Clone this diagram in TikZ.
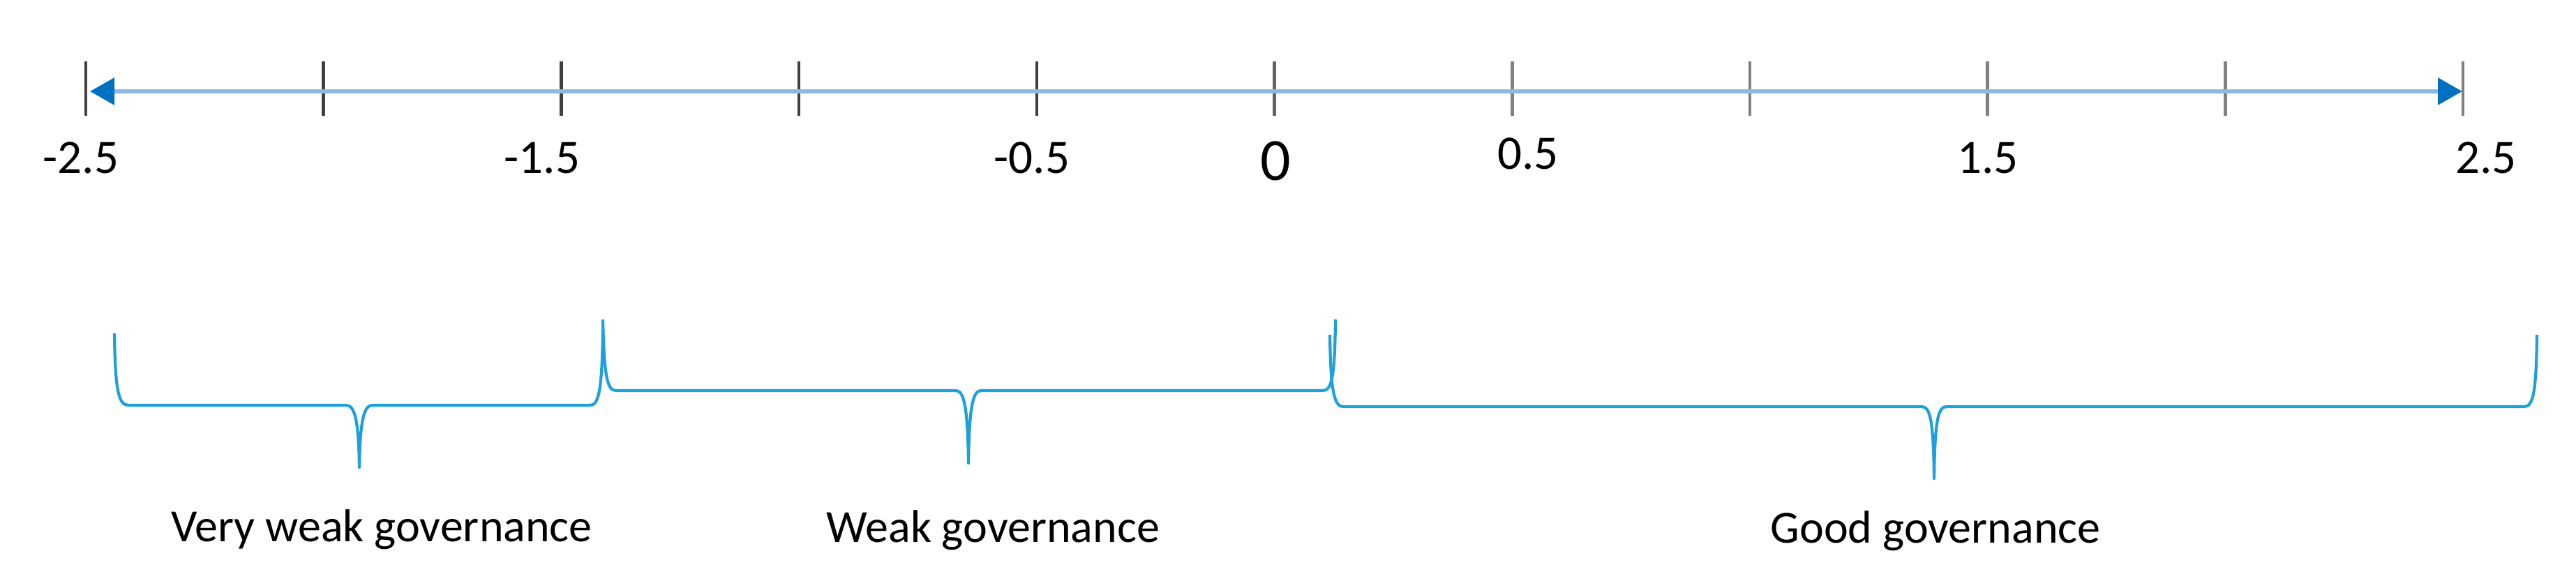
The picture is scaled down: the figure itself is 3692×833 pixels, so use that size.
\documentclass[tikz,border=0pt]{standalone}
\usepackage{fontspec}
\setmainfont{Carlito}
\usetikzlibrary{arrows.meta}
\definecolor{braceblue}{RGB}{30,160,218}
\definecolor{lineblue}{RGB}{140,185,226}
\definecolor{tipblue}{RGB}{0,112,192}
\definecolor{tickdark}{RGB}{64,64,64}
\definecolor{tickgray}{RGB}{128,128,128}
\begin{document}
\begin{tikzpicture}[x=0.25pt,y=-0.25pt,
  tickmark/.style={line width=1.15pt},
  numlabel/.style={anchor=base,inner sep=0pt,font=\fontsize{17.25pt}{20pt}\selectfont},
  zerolabel/.style={anchor=base,inner sep=0pt,font=\fontsize{21.5pt}{24pt}\selectfont},
  govlabel/.style={anchor=base,inner sep=0pt,font=\fontsize{16.5pt}{20pt}\selectfont},
  govbrace/.style={draw=braceblue,line width=1.05pt,line join=round},
  axisarrow/.style={draw=lineblue,line width=1.5pt,
    {Triangle[length=8.75pt,width=9.5pt,color=tipblue]}-{Triangle[length=8.75pt,width=9.5pt,color=tipblue]}}
]
\useasboundingbox (0,0) rectangle (3692,833);

% tick marks
\foreach \i in {0,...,10}{
  \pgfmathtruncatemacro\m{\i<5 ? 100 : (\i==5 ? 45 : 0)}
  \draw[tickmark,color=tickdark!\m!tickgray] (123+340.7*\i,88) -- (123+340.7*\i,166);
}

% axis arrow
\coordinate (aL) at (129,131);
\coordinate (aR) at (3529,131);
\draw[axisarrow] (aL) -- (aR);

% number labels
\node[numlabel] (nm25) at (116,249) {-2.5};
\node[numlabel] (nm15) at (777,249) {-1.5};
\node[numlabel] (nm05) at (1479,249) {-0.5};
\node[zerolabel] (n0) at (1828,259) {0};
\node[numlabel] (n05) at (2190,243) {0.5};
\node[numlabel] (n15) at (2849,249) {1.5};
\node[numlabel] (n25) at (3563,249) {2.5};

% braces
\draw[govbrace] (164,478) .. controls (165,560) and (170,581) .. (184,581)
  -- (496,581) .. controls (508,581) and (514,600) .. (515,670)
  .. controls (516,600) and (522,581) .. (534,581)
  -- (846,581) .. controls (858,581) and (863,560) .. (864,472);
\draw[govbrace] (864,458) .. controls (866,540) and (870,560) .. (883,560)
  -- (1370,560) .. controls (1381,560) and (1387,580) .. (1388,664)
  .. controls (1389,580) and (1395,560) .. (1406,560)
  -- (1896,560) .. controls (1909,560) and (1913,540) .. (1914,458);
\draw[govbrace] (1906,480) .. controls (1907,560) and (1912,583) .. (1925,583)
  -- (2754,583) .. controls (2766,583) and (2771,600) .. (2772,686)
  .. controls (2773,600) and (2778,583) .. (2790,583)
  -- (3618,583) .. controls (3631,583) and (3635,560) .. (3636,480);

% governance labels
\node[govlabel] (vw) at (547,776) {Very weak governance};
\node[govlabel] (wk) at (1423,777) {Weak governance};
\node[govlabel] (gd) at (2774,778) {Good governance};
\end{tikzpicture}
\end{document}
